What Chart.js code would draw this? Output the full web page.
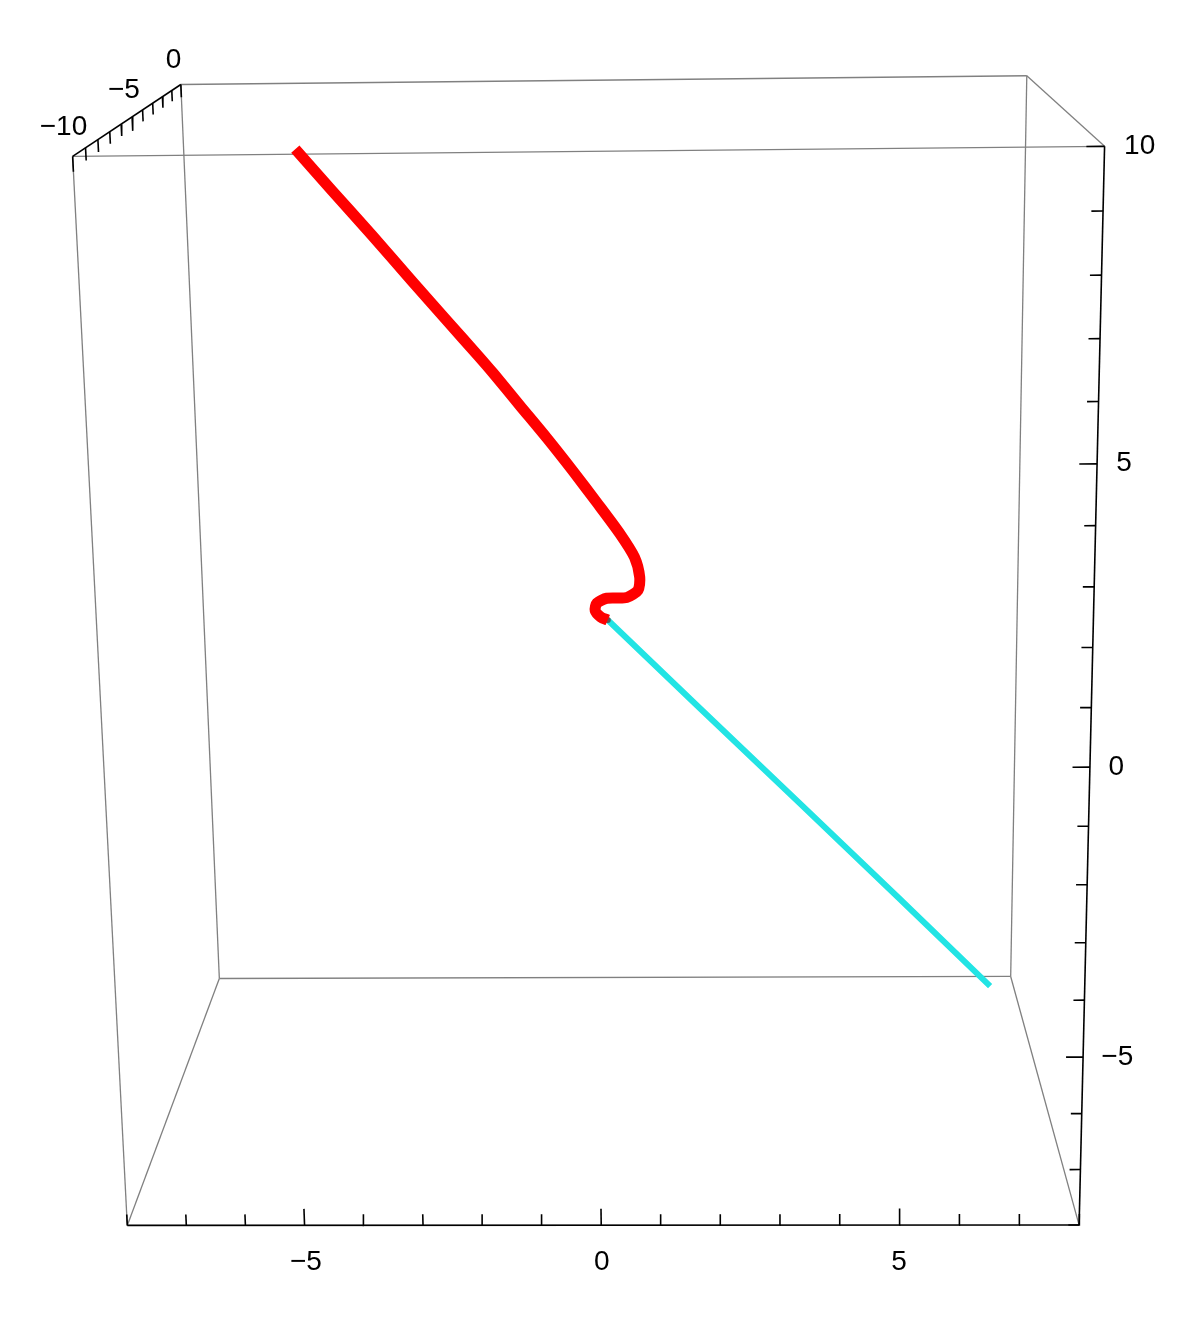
<!DOCTYPE html>
<html>
<head>
<meta charset="utf-8">
<title>Space curve in a boxed 3-D view</title>
<script src="https://cdn.jsdelivr.net/npm/chart.js@4.4.1/dist/chart.umd.min.js"></script>
<style>
	html, body { margin: 0; padding: 0; background: #fff; }
	#wrap { width: 1194px; height: 1320px; }
</style>
</head>
<body>
<div id="wrap"><canvas id="plot" width="1194" height="1320"></canvas></div>
<script>
// Box extents of the 3-D view: x across, y into the page, z up.
const xRange = [-8, 8];
const yRange = [-10, 0];
const zRange = [-8, 10];

// Ticks on every integer, labels on the multiples of five.
const xTicks = [-8, -7, -6, -5, -4, -3, -2, -1, 0, 1, 2, 3, 4, 5, 6, 7, 8];
const xLabels = [-5, 0, 5];
const yTicks = [-10, -9, -8, -7, -6, -5, -4, -3, -2, -1, 0];
const yLabels = [-10, -5, 0];
const zTicks = [-8, -7, -6, -5, -4, -3, -2, -1, 0, 1, 2, 3, 4, 5, 6, 7, 8, 9, 10];
const zLabels = [-5, 0, 5, 10];

// The two curves in the front plane of the box.
const curvePlaneY = -10;
const redX = [-4.52, -3.97, -3.37, -2.77, -2.21, -1.75, -1.51, -1.10, -0.68, -0.28, 0.09,
	0.45, 0.68, 0.76, 0.73, 0.55, 0.23, 0.07, 0.04, 0.13, 0.24];
const redZ = [10.08, 9.43, 8.73, 8.01, 7.35, 6.81, 6.52, 6.00, 5.47, 4.94, 4.43,
	3.92, 3.53, 3.20, 2.99, 2.87, 2.86, 2.78, 2.66, 2.55, 2.50];
const cyanX = [0.24, 1.70, 3.30, 4.93, 6.45];
const cyanZ = [2.50, 1.03, -0.57, -2.21, -3.75];

// Perspective camera of the original view (3x4 matrix, result in canvas pixels).
const CAMERA = [
	[50.99266, 11.72832, -2.883127, 608.8479],
	[-0.5653971, -4.327062, -51.92275, 593.0070],
	[-0.0004443256, 0.01736590, -0.003697816, 1],
];
const W = 1194;
const H = 1320;
const GREY = '#808080';
const INK = '#000000';
const FONT = '28px "Liberation Sans Narrow", "Liberation Sans", Arial, sans-serif';

function project(x, y, z) {
	const [a, b, c] = CAMERA;
	const w = c[0] * x + c[1] * y + c[2] * z + c[3];
	return {
		x: (a[0] * x + a[1] * y + a[2] * z + a[3]) / w,
		y: (b[0] * x + b[1] * y + b[2] * z + b[3]) / w,
	};
}

function segment(from, to, color, width, order) {
	return {
		data: [project(...from), project(...to)],
		showLine: true,
		borderColor: color,
		borderWidth: width,
		pointRadius: 0,
		order,
	};
}

function fmt(v) {
	return v < 0 ? '\u2212' + Math.abs(v) : String(v);
}

const [x0, x1] = xRange;
const [y0, y1] = yRange;
const [z0, z1] = zRange;
const datasets = [];

// Curves on top.
datasets.push({
	data: redX.map((x, i) => project(x, curvePlaneY, redZ[i])),
	showLine: true,
	borderColor: '#ff0000',
	borderWidth: 11,
	borderJoinStyle: 'round',
	tension: 0.25,
	pointRadius: 0,
	order: 0,
});
datasets.push({
	data: cyanX.map((x, i) => project(x, curvePlaneY, cyanZ[i])),
	showLine: true,
	borderColor: '#22e4e4',
	borderWidth: 6,
	pointRadius: 0,
	order: 1,
});
datasets.push({
	data: [project(redX[redX.length - 1], curvePlaneY, redZ[redZ.length - 1])],
	pointRadius: 3,
	pointBackgroundColor: '#5a5a5a',
	pointBorderWidth: 0,
	order: 0,
});

// Box edges; the three edges carrying axes are black.
for (const y of yRange) {
	for (const z of zRange) {
		const axis = y === y0 && z === z0;
		datasets.push(segment([x0, y, z], [x1, y, z], axis ? INK : GREY, axis ? 1.6 : 1.3, axis ? 2 : 3));
	}
}
for (const x of xRange) {
	for (const y of yRange) {
		const axis = x === x1 && y === y0;
		datasets.push(segment([x, y, z0], [x, y, z1], axis ? INK : GREY, axis ? 1.6 : 1.3, axis ? 2 : 3));
	}
}
for (const x of xRange) {
	for (const z of zRange) {
		const axis = x === x0 && z === z1;
		datasets.push(segment([x, y0, z], [x, y1, z], axis ? INK : GREY, axis ? 1.6 : 1.3, axis ? 2 : 3));
	}
}

// Tick marks point into the box.
for (const x of xTicks) {
	const len = xLabels.includes(x) ? 0.3 : 0.2;
	datasets.push(segment([x, y0, z0], [x, y0, z0 + len], INK, 1.6, 2));
}
for (const z of zTicks) {
	const len = zLabels.includes(z) ? 0.28 : 0.18;
	datasets.push(segment([x1, y0, z], [x1 - len, y0, z], INK, 1.6, 2));
}
for (const y of yTicks) {
	const len = yLabels.includes(y) ? 0.24 : 0.2;
	datasets.push(segment([x0, y, z1], [x0, y, z1 - len], INK, 1.6, 2));
}

const axisLabels = {
	id: 'axisLabels',
	afterDatasetsDraw(chart) {
		const { ctx, scales } = chart;
		const put = (text, p, align) => {
			ctx.textAlign = align;
			ctx.fillText(text, scales.x.getPixelForValue(p.x), scales.y.getPixelForValue(p.y));
		};
		ctx.save();
		ctx.fillStyle = INK;
		ctx.font = FONT;
		ctx.textBaseline = 'middle';
		xLabels.forEach((v) => put(fmt(v), project(v, y0, z0 - 0.68), 'center'));
		zLabels.forEach((v) => put(fmt(v), project(x1 + 0.3, y0, v), 'left'));
		yLabels.forEach((v) => put(fmt(v), project(x0 - 0.12, v, z1 + 0.45), 'center'));
		ctx.restore();
	},
};

new Chart(document.getElementById('plot'), {
	type: 'scatter',
	data: { datasets },
	options: {
		responsive: false,
		devicePixelRatio: 1,
		animation: false,
		layout: { padding: 0 },
		plugins: { legend: { display: false }, tooltip: { enabled: false } },
		scales: {
			x: { type: 'linear', min: 0, max: W, display: false },
			y: { type: 'linear', min: 0, max: H, reverse: true, display: false },
		},
	},
	plugins: [axisLabels],
});
</script>
</body>
</html>
